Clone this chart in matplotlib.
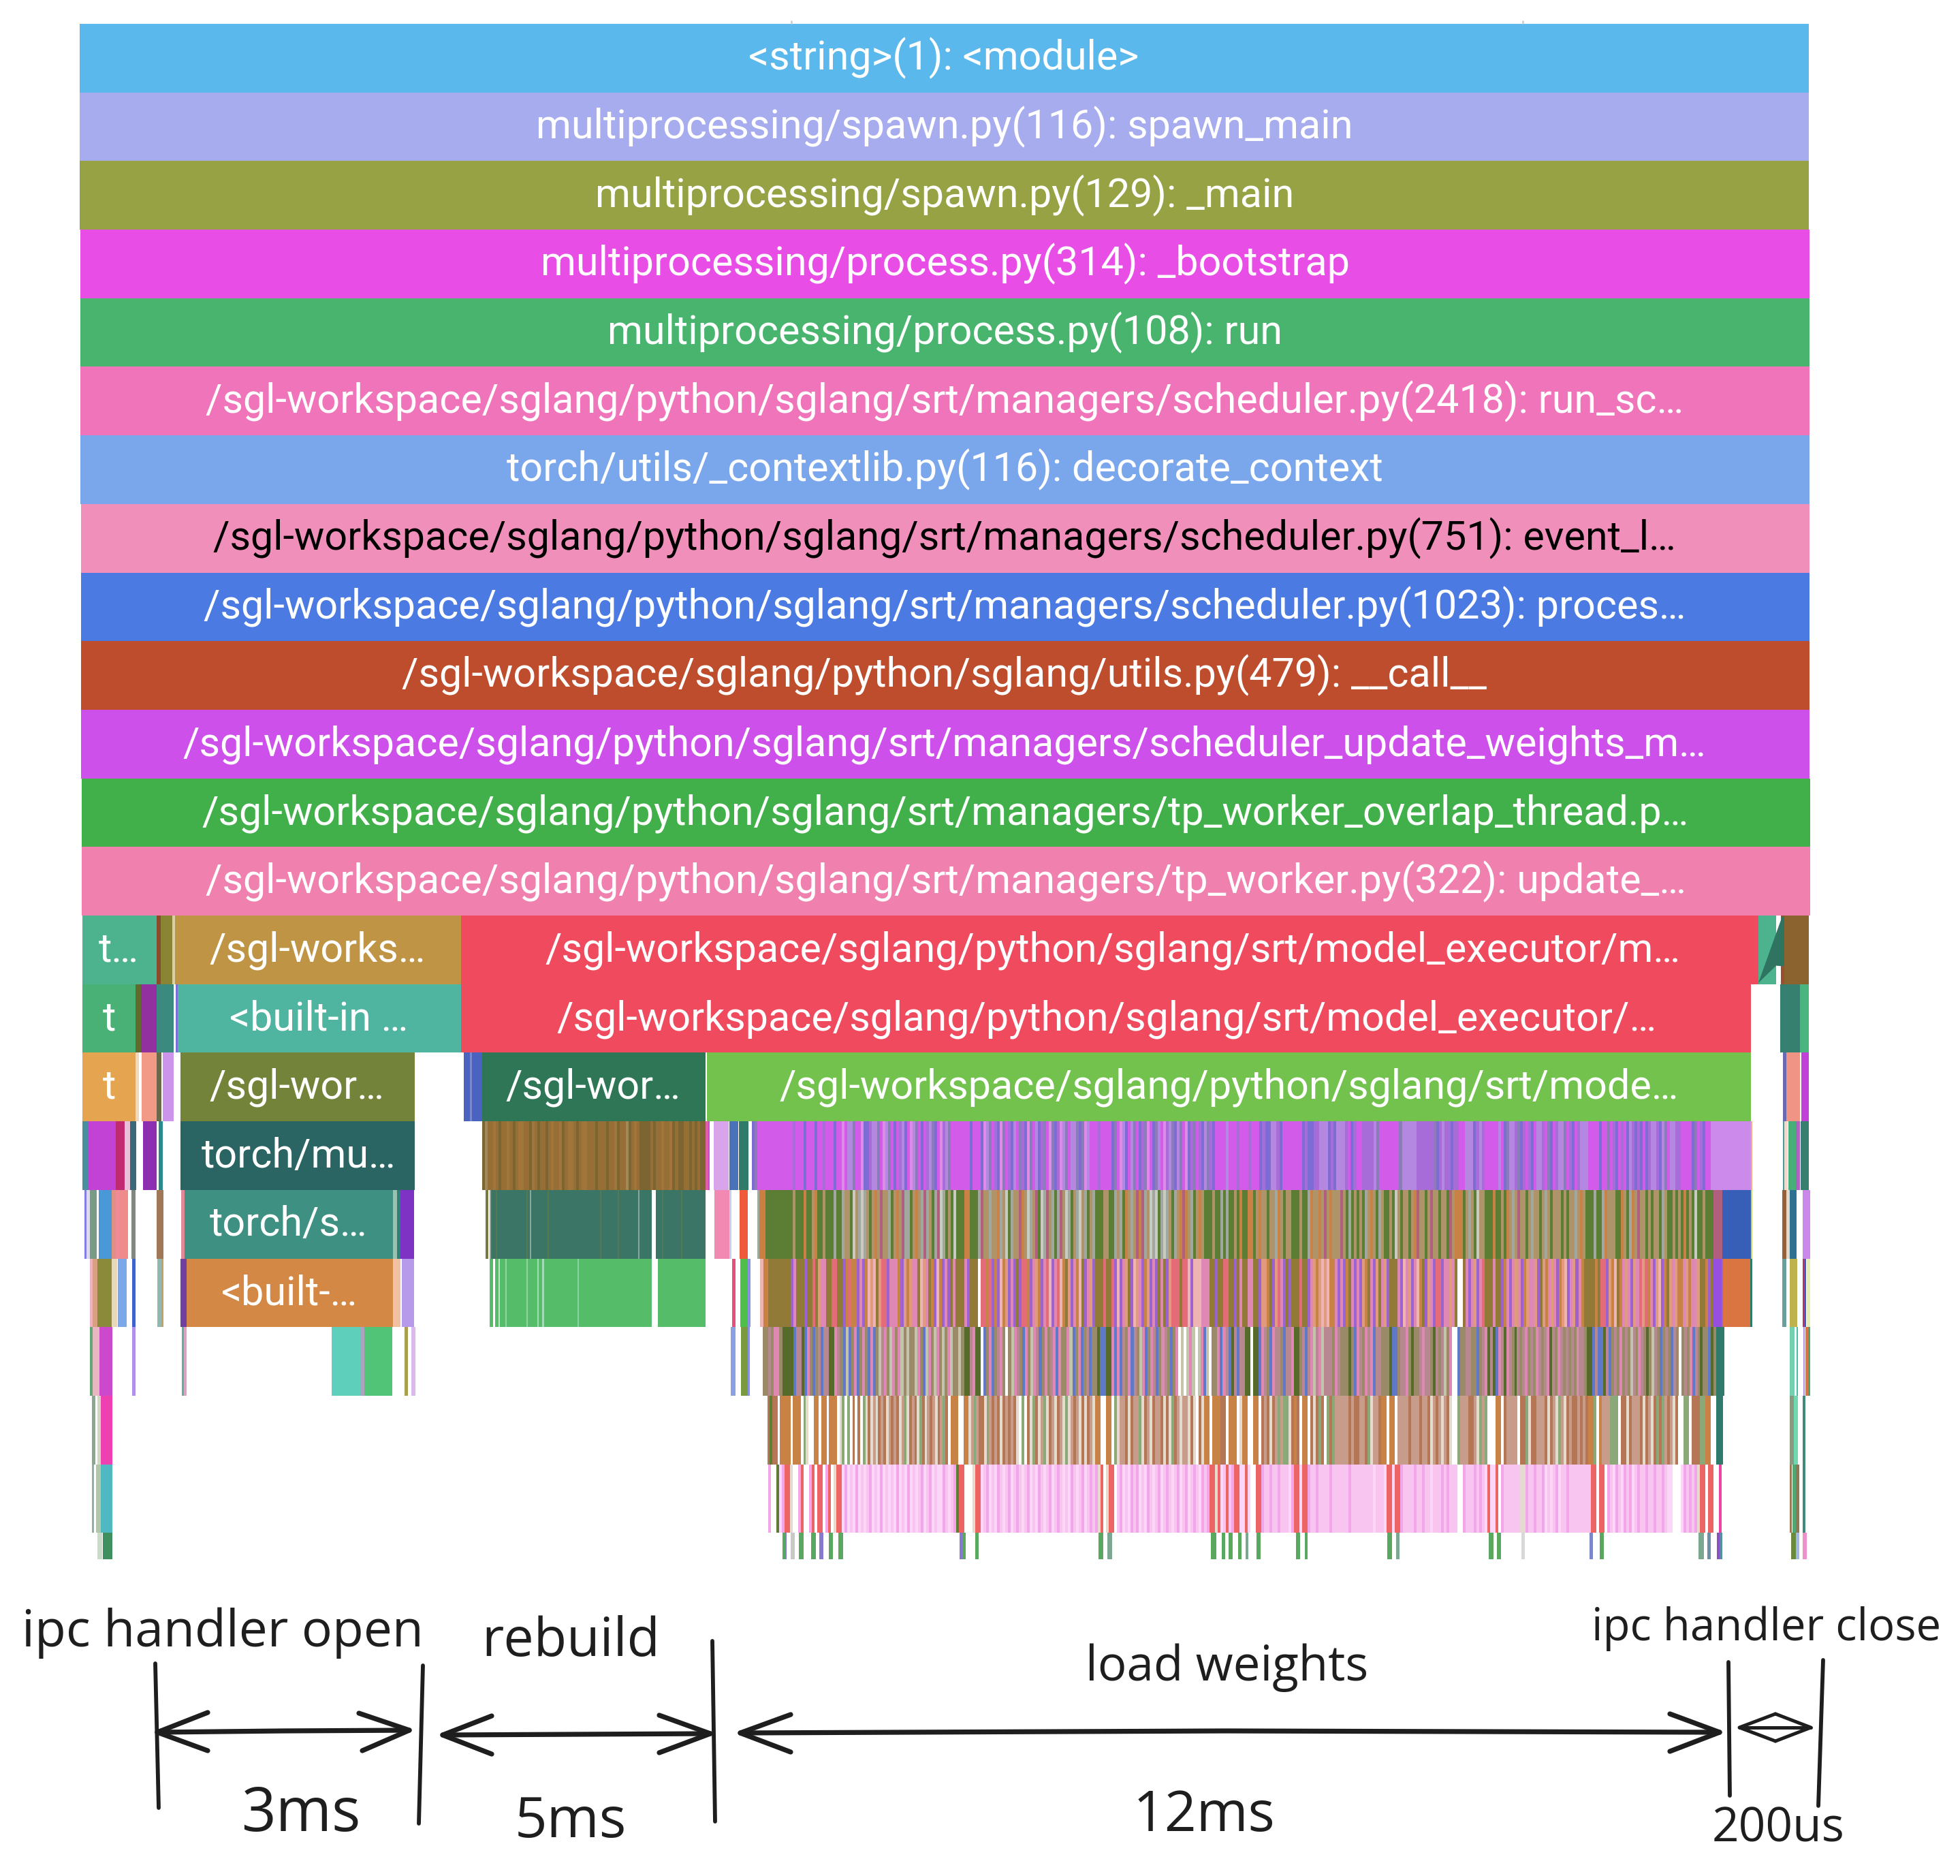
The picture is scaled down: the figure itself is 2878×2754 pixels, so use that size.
import itertools
import matplotlib
matplotlib.use("Agg")
import matplotlib.pyplot as plt

W_PX, H_PX = 2878, 2754
ROW_PX, TOP_PX = 100.7, 35.0

# ---- solid full-width frames ------------------------------------------------
frame_colors = ['#5ab8ec', '#a6acee', '#96a244', '#e84de6', '#48b46e', '#ef74b9', '#7aa6ec',
                '#f090ba', '#4a7ae2', '#bd4d2c', '#ce50ea', '#42b04a', '#f080ae']
frame_starts = [117, 117, 117, 118, 118, 118, 118, 119, 119, 119, 119, 120, 120]
frame_ends = [2656, 2656, 2656, 2657, 2657, 2657, 2657, 2657, 2657, 2657, 2657, 2658, 2658]
frame_labels = ['<string>(1): <module>',
                'multiprocessing/spawn.py(116): spawn_main',
                'multiprocessing/spawn.py(129): _main',
                'multiprocessing/process.py(314): _bootstrap',
                'multiprocessing/process.py(108): run',
                '/sgl-workspace/sglang/python/sglang/srt/managers/scheduler.py(2418): run_sc…',
                'torch/utils/_contextlib.py(116): decorate_context',
                '/sgl-workspace/sglang/python/sglang/srt/managers/scheduler.py(751): event_l…',
                '/sgl-workspace/sglang/python/sglang/srt/managers/scheduler.py(1023): proces…',
                '/sgl-workspace/sglang/python/sglang/utils.py(479): __call__',
                '/sgl-workspace/sglang/python/sglang/srt/managers/scheduler_update_weights_m…',
                '/sgl-workspace/sglang/python/sglang/srt/managers/tp_worker_overlap_thread.p…',
                '/sgl-workspace/sglang/python/sglang/srt/managers/tp_worker.py(322): update_…']
frame_label_x = [1386, 1387, 1387, 1388, 1387, 1387, 1387, 1387, 1387, 1387, 1387, 1388, 1389]
frame_label_colors = ['white'] * 7 + ['black'] + ['white'] * 5

# ---- labelled frames in the lower rows: depth, centre, text -----------------
low_labels = [(13, 174, 't…'), (13, 466, '/sgl-works…'), (13, 1634, '/sgl-workspace/sglang/python/sglang/srt/model_executor/m…'),
              (14, 160, 't'), (14, 468, '<built-in …'), (14, 1625, '/sgl-workspace/sglang/python/sglang/srt/model_executor/…'),
              (15, 160, 't'), (15, 436, '/sgl-wor…'), (15, 871, '/sgl-wor…'), (15, 1805, '/sgl-workspace/sglang/python/sglang/srt/mode…'),
              (16, 438, 'torch/mu…'), (17, 424, 'torch/s…'), (18, 425, '<built-…')]

# ---- individual frames: (start, end, colour) --------------------------------
row13 = [(121, 229.5, '#4db38e'), (229.5, 236, '#8b4a2b'), (236, 253, '#8a8435'), (253, 257, '#d8d0a8'),
         (257, 677, '#bf9445'), (677, 2582, '#ef4a5e'), (2582, 2608, '#4db38e'), (2615, 2620, '#9b4f2e'),
         (2620, 2656, '#8a632e')]
row14 = [(121, 199, '#4ab176'), (199, 206.5, '#5f6a2c'), (206.5, 229.5, '#93309f'), (229.5, 255, '#3a8a80'),
         (257.5, 261, '#7a6fd8'), (261, 677, '#4fb5a0'), (677, 2571, '#ef4a5e'),
         (2614, 2643, '#35806f'), (2643, 2656, '#4ab57f')]
row15 = [(121, 199, '#e5a550'), (199, 204, '#f0d8c0'), (208, 229.5, '#f29a86'), (229.5, 237, '#6a6a4a'),
         (239, 255, '#cd94ec'), (264.5, 609, '#74833a'), (681, 690, '#4a63c0'), (690, 693, '#7a88d0'),
         (693, 708, '#4a63c0'), (708, 1035.6, '#2f7656'), (1037.5, 2571, '#72c24d'),
         (2618, 2623, '#6a6ab0'), (2623, 2624, '#d0a0a0'), (2624, 2643, '#f09585'), (2645, 2656, '#c040d8')]
row16 = [(121, 128.7, '#4a8fa0'), (128.7, 170, '#c342d6'), (170, 183, '#c02a70'), (183, 190.5, '#e8c0d8'),
         (190.5, 200, '#3a6a78'), (210, 229.5, '#8c2fb0'), (232.6, 239, '#2a8a90'), (264.5, 609, '#2a6463'),
         (1036, 1040, '#e060a0'), (1040, 1042, '#c848d0'), (1048, 1070, '#d8a5ea'), (1071, 1084, '#4a72b8'),
         (1085, 1099, '#2f7a68'), (2512, 2571, '#cc8aea'), (2571, 2573, '#f0b080'),
         (2618, 2620, '#4a9aa0'), (2620, 2625, '#f0d8cc'), (2626, 2637, '#48ae7a'), (2637, 2643, '#b060c0'),
         (2644, 2656, '#37806f')]
row17 = [(123.6, 127.4, '#8080e0'), (127.4, 132, '#e0d8f0'), (132, 141.5, '#7a9a88'), (144.6, 163.8, '#4a98d8'),
         (164, 170, '#e09080'), (170, 176, '#f08a98'), (176, 188, '#ee8b8b'), (192.5, 199, '#808880'),
         (229.5, 240, '#a07858'), (266, 271, '#e08a9a'), (271, 577, '#3e9182'), (577, 583, '#9ac0b0'),
         (583, 588, '#2f7f78'), (588, 608, '#7f33c4'), (713, 717, '#7a7a40'), (720, 957, '#3a7565'),
         (963, 1036, '#3a7565'), (1049, 1071, '#f289b3'), (1071, 1074, '#bcd4f0'), (1086, 1098, '#ee5a3a'),
         (2529, 2571, '#375fb8'), (2571, 2573, '#c8d060'),
         (2617, 2623, '#94623a'), (2623, 2628, '#e0d8c8'), (2628, 2638, '#2f6f90'), (2647, 2658, '#cc88e8')]
row18 = [(132, 136, '#f0b0c0'), (136, 143, '#d8a080'), (143, 164, '#8a8a3a'), (164, 172, '#e8d8b8'),
         (173, 186, '#7aa8e8'), (194, 199, '#4060d0'), (230.7, 237, '#90b8b0'), (237, 240, '#c8a060'),
         (264.5, 273.5, '#7040a0'), (273.5, 577, '#d38945'), (577, 588, '#f0c0a0'), (590, 608, '#b89aea'),
         (718.6, 956.5, '#55bd6a'), (965.5, 1035.6, '#55bd6a'), (1075, 1080, '#e8507a'), (1087, 1098, '#4ec04a'),
         (1098, 1102, '#8a90e0'), (2515, 2528, '#9650e0'), (2530, 2570, '#da7440'), (2570, 2573, '#2f7a6a'),
         (2617, 2623, '#6a9fa0'), (2628, 2639, '#bfb24d'), (2647, 2649, '#c03070'), (2649, 2652, '#4060c0'),
         (2653, 2658, '#e0eeb0')]
row19 = [(132, 136, '#60a878'), (136, 146, '#e8b8c0'), (146, 165, '#cc48cc'), (194, 199, '#b090ea'),
         (267, 270, '#60b0a0'), (270, 273.5, '#e0a0c0'), (487, 529, '#5dcfba'), (529, 535, '#b0a0c0'),
         (535, 576, '#52c478'), (594, 599, '#a8a050'), (604, 610, '#dcb8f0'), (1073, 1080, '#8aa0e0'),
         (1088, 1098, '#7a9a40'), (1098, 1101, '#8a90e0'),
         (2628, 2635, '#70d0b0'), (2638, 2640, '#50b8a0'), (2648, 2650, '#b090e0'), (2651, 2655, '#da7440'),
         (2655, 2658, '#50a070')]
row20 = [(135, 139.5, '#8aa890'), (143, 148, '#d0d8c0'), (148, 165, '#ee40b0'), (2521, 2530, '#2f7a6a'),
         (2628, 2634, '#8a9a80'), (2634, 2640, '#70d8b0'), (2647, 2651, '#3f8a78')]
row21 = [(135, 138, '#90b0a0'), (141, 148, '#b0c8a8'), (148, 165, '#50b8c0'),
         (2628, 2631, '#9a7a58'), (2632, 2637, '#50a878'), (2637, 2642, '#907850'), (2647, 2651, '#3f8a78')]
row22 = [(143, 150, '#c8dcc8'), (151, 165, '#3f8f5f'), (1149, 1153, '#5aa860'), (1153, 1155, '#8878d0'),
         (1161, 1167, '#c8c8c8'), (1173, 1180, '#5aa860'), (1191, 1198, '#5aa860'), (1203, 1209, '#8878d0'),
         (1217, 1223, '#5aa860'), (1231, 1238, '#5aa860'), (1409, 1413, '#8878d0'), (1413, 1418, '#5aa860'),
         (1432, 1437, '#5aa860'), (1613, 1620, '#5aa860'), (1626, 1633, '#7aa890'), (1778, 1786, '#5aa860'),
         (1794, 1799, '#5aa860'), (1804, 1810, '#5aa860'), (1818, 1823, '#5aa860'), (1829, 1833, '#7aa890'),
         (1845, 1851, '#5aa860'), (1903, 1909, '#5aa860'), (1916, 1920, '#5aa860'), (2037, 2044, '#5aa860'),
         (2050, 2055, '#7aa890'), (2186, 2193, '#5aa860'), (2198, 2204, '#5aa860'), (2234, 2239, '#d8d8d8'),
         (2334, 2339, '#7a88c8'), (2349, 2355, '#5aa860'), (2494, 2502, '#7aa890'), (2507, 2512, '#6a90a8'),
         (2521, 2525, '#8850c0'), (2525, 2529, '#5090a0'), (2630, 2637, '#6a8a40'), (2637, 2642, '#a0b8e8'),
         (2647, 2653, '#f090c8')]
row_frames = {13: row13, 14: row14, 15: row15, 16: row16, 17: row17, 18: row18,
              19: row19, 20: row20, 21: row21, 22: row22}
row22_depth_fraction = 0.38

# thin light or olive stripes inside the long rebuild frames
row17_thin = [(719, 721, '#90ac98'), (728, 730, '#557a50'), (773, 775, '#557a50'), (778, 780, '#86a89e'),
              (804, 806, '#5a7848'), (881, 883, '#557a50'), (907, 909, '#557a50'), (937, 939, '#86a89e'),
              (972, 974, '#4f7a58'), (1000, 1002, '#557a50')]
row18_thin = [(724, 727, '#ffffff'), (732, 734, '#c0e8c8'), (742, 744, '#90d4a4'), (773, 775, '#90d4a4'),
              (789, 791, '#a0dcb4'), (796, 799, '#a0dcb4'), (848, 850, '#86d4a0')]

# ---- dense stripes, one code per narrow slot --------------------------------
palette = {'M': '#d25ce9', 'V': '#a86cd8', 'L': '#b488e0', 'B': '#7c6cd4', 'G': '#8a7cb8', 'P': '#e08ae8',
           'g': '#5c7d34', 'o': '#c88246', 't': '#ae9468', 'b': '#a0a8a0', 'c': '#b0607c', 'w': '#c8ccc0',
           'k': '#917a38', 'p': '#e088b4', 'r': '#e46c78', 's': '#e09a80', 'v': '#9c62d0', 'n': '#eeb4b4',
           'd': '#566a2a', 'h': '#9a8a68', 'e': '#b88890', 'f': '#c4c4ac',
           'a': '#b47654', 'q': '#c89c8a', 'y': '#e4dace', 'T': '#2f7a6a',
           'i': '#f8c4f0', 'j': '#f2a6ea', 'R': '#ec6464', 'u': '#fbd6f6', 'X': '#f040a0',
           'x': '#966f36', 'l': '#7d6531', 'z': '#a0763a', 'm': '#a08a5a', 'E': '#8aa878'}
dark_blue_row19 = {'B': '#6078c8'}

brown_span = (708, 1036)
brown_codes = 'lmxxzxlxxzxlxzzxxlzxlxxlxzxxzlxzzxlxzzxxxlxxxlxxzlxxmlxzxllllxlxxzxxzlxllxxlxlxll'

dense_edges = [1100, 1460, 1820, 2180, 2540]
dense16 = ['WBGMMMMMMMMMMMMMVMMMBMMMBMMVMMMBMM' + 'PMLLGMMPBBVLLGMPLGMBMVLBMPLGMBMVLGBMPVLGMMMMMMMBMMMBPLGM',
           'VBPGMVBLMGVBPGMLBVGMPGBVPLGMLLGBGPL' + 'MMMVMMMM' + 'BGMPLBMLGMBVGPMBGLMPVLGBLGMPBVGMVBLGVB' + 'MMMMLMMMV',
           'MMMVMMMBVBBLLVBMMMMMMMBVBBVVLLLBVBLLLVMBVMMVVVVLGMMMMMMMGLLLLLVVVVVVGBVLVVBVVMMLLLBVLV',
           'MMMMMLMBGLLVGBVMVBMLLVMGBMVLLGMVBMVLLLMMMMBMMGMVBMVMBLVBVBMBVLLVBLGMLLVVMMMMBGMVBMMLLLLLLL']
dense17 = ['WWWboo' + 'gggggggggg' + 'tgggoggtoggtgggbggbttgw' + 'tbwbtgtotcttbgtotcbbgtotbcbtgbcwbgtgw' + 'gggoogggbcttbt',
           'tobtwgbttcotwbtcgwbctbgbctwbgtbwtbgtb' + 'gggttgg' + 'btbgotbtcocbtwbwgbwbtgbtocotbgtotg' + 'ggtggbgbggtg',
           'oggoog' + 'tottgttbotgtt' + 'ggg' + 't' + 'gg' + 'bottotctotttct' + 'gbgtgtgbtotgbt' + 'gg' + 't' + 'g' + 'wtgttgtocttgtcttgttgc' + 'tooo' + 'gtbtgwtt',
           'gggogg' + 'tgotbtcttgtbttgtbtgtttgtgttbtot' + 'ggg' + 'b' + 'gg' + 'bo' + 'ttt' + 'ggotgbotc' + 'ttgtgt' + 'tgbtgg' + 'tgtgo' + 'gtgwgg' + 'tggg' + 'ccc' + 'ccc']
dense18 = ['WWWWnnokkkkkkkkvpkkkvkkrksppkkrrkkvoroovpvonsnksrrvpppovsosppknspkovnovpvkpkkkpvkkkWrrorv',
           'ovnosvpvkvrrovpsovprnvprnoksvponkvpsv' + 'kkkrkkr' + 'vnvpskvnspvosvpvkpkvs' + 'rrrkrr' + 'nvnnnpppk' + 'kvkkrrkkvk',
           'pkkppkkvssokvsrpvkvkkkrkkvpsosnsnoopvpvokpvpvsokpvskpsvkkkpvnpsvpnokvspvrrvppspkWWkpvpsvpr',
           'kkkpkkvopvpspvosppsvksopspvosnvpsvpokkkkokrrvsonkopspvsprsropvsnvoksps' + 'oopsoppskkovkkvvvoo']
dense19 = ['WWWWWhhehpphdddd' + 'BeedBphBheBeeddpehBfBhpB' + 'hphBpBhfephfphpfhfhhfphBfphfphfhpfhhfh' + 'ddepddWBhpB',
           'hephWhfpehBphfpeBhphepBphhpfBhpBheBhh' + 'dBBddpB' + 'pBehpBehfpBhpeBhpehBhp' + 'WfWfpfWfpBfW' + 'hhpBpeBdeB',
           'eeddWddBpehBpeehBeepddheBepfepfeeehpehhhdhBpehpepBeehhhdBBheephdhhepeehdehefhpWWBhheehhBhe',
           'pdedBpedpehdehephehpehepdehpehehehpeehddBeBBdeBhehphehfehpehdhfehBhehBehWhehpBehdhhBdhTTTWW']
dense20 = ['WWWWWWWagaaWooooWoooWEyWWooWooWoooWyEWEWaWaWEyayqyaqayqaqayqEyaqayEayqaqyaqEaWoooWWooyqEqaayEqa',
           'qayaqaqayWEWayEayqEyaqyaqyEyqaqyayaqy' + 'ooWWoo' + 'W' + 'EyqqayaqqgyaqyaqqayaygaqyqqyayWay'.replace('g', 'E') + 'ooWoooaaWoooW',
           'yooWWooWaqayaqEqEEyaoaWooWayaEaWEaEqqqqqaqaaqqaEyqqaooWooWqqqqaqqqaqqayqaqyqayWWEqqqaaqyEq',
           'EWWWooWaqqqqWaaEyaaqqqayaqyEqyaqaaqaqa' + 'ooE' + 'Wo' + 'qqq' + 'EEE' + 'Wa' + 'ayaqqqayaqyaEaEqaqya' + 'WW' + 'EEW' + 'aaa' + 'EE' + 'oo' + 'WW' + 'TT' + 'WWW']
dense21 = ['WWWWWWWjWWgujRRyWWjRWWjRWRRWjRWyRR' + 'ujuiujuiuijuiujuiuiujuiujuiuijuijuiuujiuij' + 'gRRWWWyRRuijui',
           'ujiuijuijiuijuiujiuijuijiuiujiuijuijij' + 'yRWyRR' + 'Wijuiujijuiujiuijuijiuijuijuijiujij' + 'RRyRuiRijRR',
           'uuRuWWRRjiijiijiiiujRRuRRjiijiiiijiiiiiijiiiiiiiiuiiiuRRuRRjiiiijiijiiuiiijijiiiWWjiiijiji',
           'uRuuRWjiiiiiiyyjiijiijuiuijuiijiiiiiiiiRRWRRWjiujiujijuijiijiijiijiuuWWWujijijyRRWRRWWXWWW']
palette['R'] = '#ec6464'
dense_rows = {16: dense16, 17: dense17, 18: dense18, 19: dense19, 20: dense20, 21: dense21}
overlay_row = {17: [(1115, 1124, '#cc7f40')], 18: [(1121, 1126, '#cc7f40')]}

# ---- sketched annotation below the chart ------------------------------------
sketch_verticals = [((228, 233), (2442, 2654)), ((621, 615), (2445, 2677)), ((1046, 1050), (2409, 2674)),
                    ((2538, 2540), (2440, 2636)), ((2677, 2670), (2437, 2651))]
sketch_shafts = [((231, 416, 601), (2543, 2541, 2540)), ((650, 1043), (2547, 2545)),
                 ((1087, 1800, 2525), (2544, 2541, 2543))]
sketch_heads = [((305, 231, 305), (2514, 2543, 2570)), ((527, 601, 532), (2515, 2540, 2570)),
                ((722, 650, 722), (2519, 2547, 2575)), ((968, 1043, 968), (2518, 2545, 2573)),
                ((1161, 1087, 1161), (2517, 2544, 2572)), ((2452, 2525, 2452), (2516, 2543, 2571))]
small_arrow = [((2554, 2659), (2536, 2536)), ((2607, 2554, 2607), (2516, 2536, 2556)),
               ((2607, 2659, 2607), (2516, 2536, 2556))]
sketch_texts = [(327, 2417, 'ipc handler open', 54), (838, 2431, 'rebuild', 57), (442, 2688, '3ms', 64),
                (838, 2697, '5ms', 60), (1802, 2467, 'load weights', 51), (1768, 2688, '12ms', 59),
                (2594, 2408, 'ipc handler close', 47), (2611, 2704, '200us', 50)]
glitch_x = [2582, 2617, 2620, 2620, 2608, 2582]
glitch_depth = [13.98, 13.01, 13.01, 13.74, 13.73, 13.98]

# ---- drawing ----------------------------------------------------------------
fig = plt.figure(figsize=(W_PX / 100, H_PX / 100), dpi=100, facecolor='white')
ax = fig.add_axes([0, 0, 1, 1])
ax.set_xlim(0, W_PX)
ax.set_ylim((H_PX - TOP_PX) / ROW_PX, -TOP_PX / ROW_PX)
ax.axis('off')


def draw(depth, segments, height=1.0, aa=True):
    for start, end, colour in segments:
        ax.barh(depth, end - start, left=start, height=height, align='edge',
                color=colour, linewidth=0, antialiased=aa)


def runs(codes, x0, x1, colours):
    step = (x1 - x0) / len(codes)
    out = []
    pos = 0
    for code, grp in itertools.groupby(codes):
        n = len(list(grp))
        if code != 'W':
            out.append((x0 + pos * step, x0 + (pos + n) * step, colours[code]))
        pos += n
    return out


for depth, (colour, a, b) in enumerate(zip(frame_colors, frame_starts, frame_ends)):
    draw(depth, [(a, b, colour)])

ax.vlines([1162, 2236], -0.05, 0, colors='#cfcfcf', linewidth=2)

for depth, strings in dense_rows.items():
    colours = {**palette, **dark_blue_row19} if depth == 19 else palette
    for codes, x0, x1 in zip(strings, dense_edges[:-1], dense_edges[1:]):
        draw(depth, runs(codes, x0, x1, colours), aa=False)
draw(16, runs(brown_codes, *brown_span, palette), aa=False)

for depth, segs in row_frames.items():
    draw(depth, segs, height=row22_depth_fraction if depth == 22 else 1.0)
draw(17, row17_thin)
draw(18, row18_thin)
for depth, segs in overlay_row.items():
    draw(depth, segs)
ax.fill(glitch_x, glitch_depth, color='#2f7460', linewidth=0)

label_font = dict(family='Roboto', fontsize=42.7, va='baseline', ha='center')
for depth, (txt, x, colour) in enumerate(zip(frame_labels, frame_label_x, frame_label_colors)):
    ax.text(x, depth + 0.67, txt, color=colour, **label_font)
for depth, x, txt in low_labels:
    ax.text(x, depth + 0.67, txt, color='white', **label_font)

ov = fig.add_axes([0, 0, 1, 1], facecolor='none')
ov.set_xlim(0, W_PX)
ov.set_ylim(H_PX, 0)
ov.axis('off')
INK = '#1e1e1e'
for xs, ys in sketch_verticals:
    ov.plot(xs, ys, color=INK, lw=4.2, solid_capstyle='round')
for xs, ys in sketch_shafts:
    ov.plot(xs, ys, color=INK, lw=5.2, solid_capstyle='round')
for xs, ys in sketch_heads:
    ov.plot(xs, ys, color=INK, lw=5.2, solid_capstyle='round', solid_joinstyle='round')
for xs, ys in small_arrow:
    ov.plot(xs, ys, color=INK, lw=3.6, solid_capstyle='round', solid_joinstyle='round')
for x, y, txt, size in sketch_texts:
    ov.text(x, y, txt, color=INK, family='Open Sans', fontsize=size, ha='center', va='baseline')

fig.savefig('out.png', dpi=100, facecolor='white')
